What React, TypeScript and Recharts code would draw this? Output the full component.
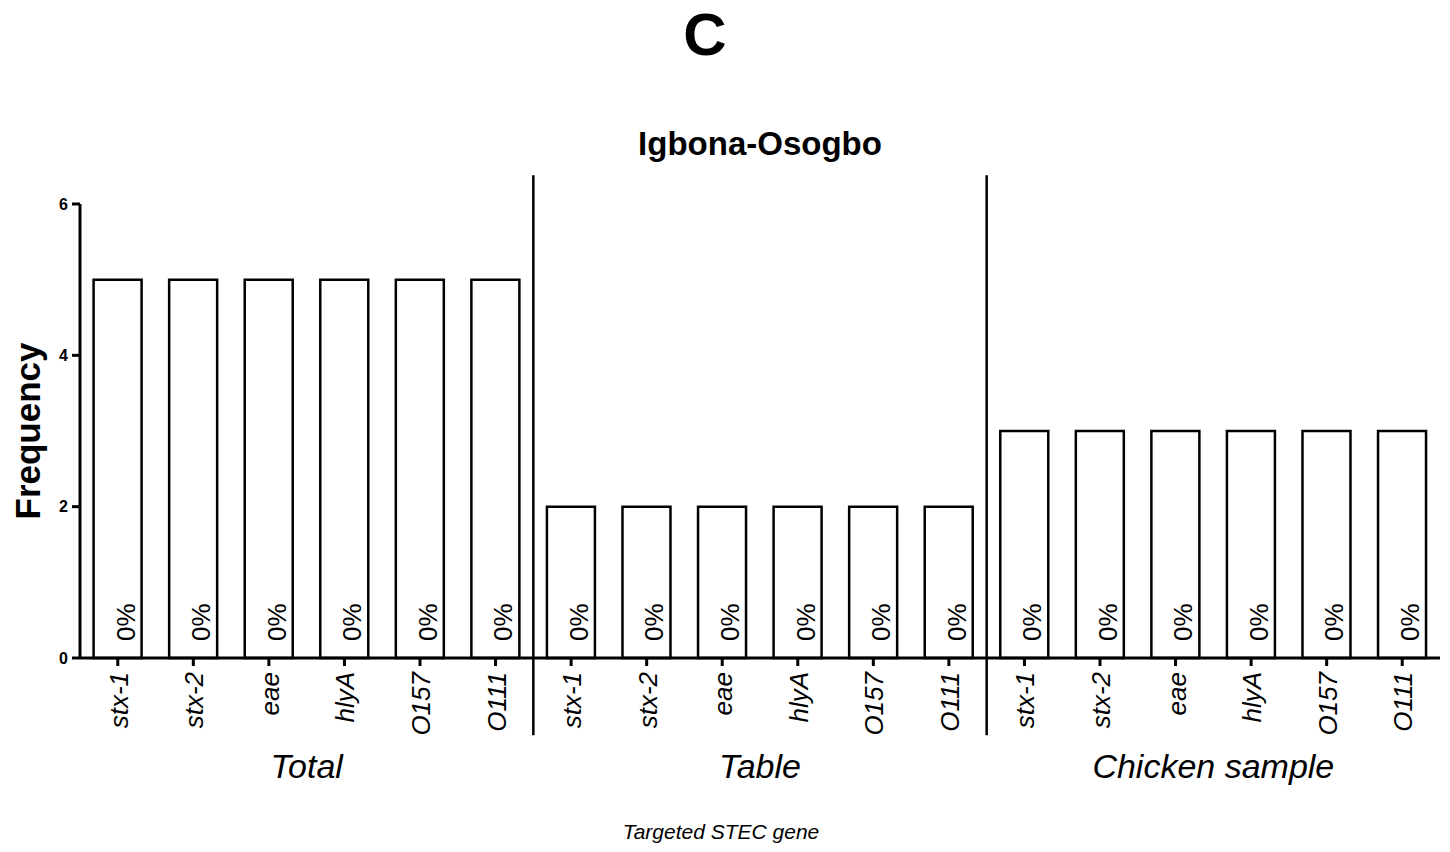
import { BarChart, Bar, XAxis, YAxis, ReferenceLine, LabelList } from "recharts";

const genes = ["stx-1", "stx-2", "eae", "hlyA", "O157", "O111"];
const groups = ["Total", "Table", "Chicken sample"];
const totalFreq = [5, 5, 5, 5, 5, 5];
const tableFreq = [2, 2, 2, 2, 2, 2];
const chickenFreq = [3, 3, 3, 3, 3, 3];
const percentLabels = ["0%", "0%", "0%", "0%", "0%", "0%"];
const yTicks = [0, 2, 4, 6];

const FONT = "'Liberation Sans', Arial, Helvetica, sans-serif";

const freqByGroup = [totalFreq, tableFreq, chickenFreq];
const data = groups.flatMap((g, gi) =>
  genes.map((gene, i) => ({
    id: `${g}-${gene}`,
    gene,
    group: g,
    pos: gi * genes.length + i + 0.5,
    freq: freqByGroup[gi][i],
    pct: percentLabels[i],
  }))
);
const nCats = data.length;
const groupCentres = groups.map((_, gi) => gi * genes.length + genes.length / 2);
const separators = groups.slice(1).map((_, gi) => (gi + 1) * genes.length);

function GeneTick(props: any) {
  const { x, y, payload } = props;
  const row = data.find((d) => d.id === payload.value);
  return (
    <text
      transform={`translate(${x + 10},${y + 6}) rotate(-90)`}
      textAnchor="end"
      fontFamily={FONT}
      fontStyle="italic"
      fontSize={26}
      fill="#000"
    >
      {row ? row.gene : ""}
    </text>
  );
}

function GroupTick(props: any) {
  const { x, y, payload } = props;
  const idx = Math.floor(payload.value / genes.length);
  return (
    <text
      x={x}
      y={y + 30}
      textAnchor="middle"
      fontFamily={FONT}
      fontStyle="italic"
      fontSize={34}
      fill="#000"
    >
      {groups[idx]}
    </text>
  );
}

function PctLabel(props: any) {
  const { x, y, width, height, value } = props;
  const cx = x + width / 2;
  const bottom = y + height;
  return (
    <text
      transform={`translate(${cx + 17},${bottom - 17}) rotate(-90)`}
      textAnchor="start"
      fontFamily={FONT}
      fontSize={26}
      fill="#000"
    >
      {value}
    </text>
  );
}

export default function App() {
  return (
    <div
      style={{
        position: "absolute",
        left: 0,
        top: 0,
        width: 1450,
        height: 852,
        background: "#fff",
        fontFamily: FONT,
      }}
    >
      <div
        style={{
          position: "absolute",
          left: 0,
          width: 1410,
          top: 5,
          textAlign: "center",
          fontSize: 60,
          lineHeight: "60px",
          fontWeight: "bold",
        }}
      >
        C
      </div>
      <div
        style={{
          position: "absolute",
          left: 0,
          width: 1520,
          top: 127,
          textAlign: "center",
          fontSize: 33,
          lineHeight: "33px",
          fontWeight: "bold",
        }}
      >
        Igbona-Osogbo
      </div>
      <BarChart
        width={1450}
        height={852}
        data={data}
        margin={{ top: 204, right: 10, bottom: 0, left: 0 }}
        barCategoryGap="18%"
        style={{ position: "absolute", left: 0, top: 0 }}
      >
        <YAxis
          width={80}
          domain={[0, 6]}
          ticks={yTicks}
          tickSize={8}
          tickMargin={4}
          axisLine={{ stroke: "#000", strokeWidth: 3 }}
          tickLine={{ stroke: "#000", strokeWidth: 3 }}
          tick={{ fill: "#000", fontSize: 16, fontWeight: "bold", fontFamily: FONT }}
          label={({ viewBox }: any) => (
            <text
              transform={`translate(${viewBox.x + 40},${viewBox.y + viewBox.height / 2}) rotate(-90)`}
              textAnchor="middle"
              fontFamily={FONT}
              fontWeight="bold"
              fontSize={35}
              fill="#000"
            >
              Frequency
            </text>
          )}
        />
        <XAxis
          xAxisId="gene"
          dataKey="id"
          height={90}
          tickSize={8}
          tickMargin={0}
          interval={0}
          axisLine={{ stroke: "#000", strokeWidth: 3 }}
          tickLine={{ stroke: "#000", strokeWidth: 3 }}
          tick={<GeneTick />}
        />
        <XAxis
          xAxisId="group"
          dataKey="pos"
          type="number"
          domain={[0, nCats]}
          ticks={groupCentres}
          interval={0}
          height={104}
          tickSize={0}
          tickMargin={0}
          axisLine={false}
          tickLine={false}
          tick={<GroupTick />}
          label={({ viewBox }: any) => (
            <text
              x={viewBox.x + viewBox.width / 2 - 39}
              y={viewBox.y + 91}
              textAnchor="middle"
              fontFamily={FONT}
              fontStyle="italic"
              fontSize={21}
              fill="#000"
            >
              Targeted STEC gene
            </text>
          )}
        />
        <XAxis xAxisId="sep" dataKey="pos" type="number" domain={[0, nCats]} hide />
        {separators.map((s) => (
          <ReferenceLine
            key={s}
            xAxisId="sep"
            segment={[
              { x: s, y: -1.02 },
              { x: s, y: 6.38 },
            ]}
            ifOverflow="visible"
            stroke="#000"
            strokeWidth={2.5}
          />
        ))}
        <Bar
          xAxisId="gene"
          dataKey="freq"
          fill="#fff"
          stroke="#000"
          strokeWidth={2.5}
          isAnimationActive={false}
        >
          <LabelList dataKey="pct" content={<PctLabel />} />
        </Bar>
      </BarChart>
    </div>
  );
}
